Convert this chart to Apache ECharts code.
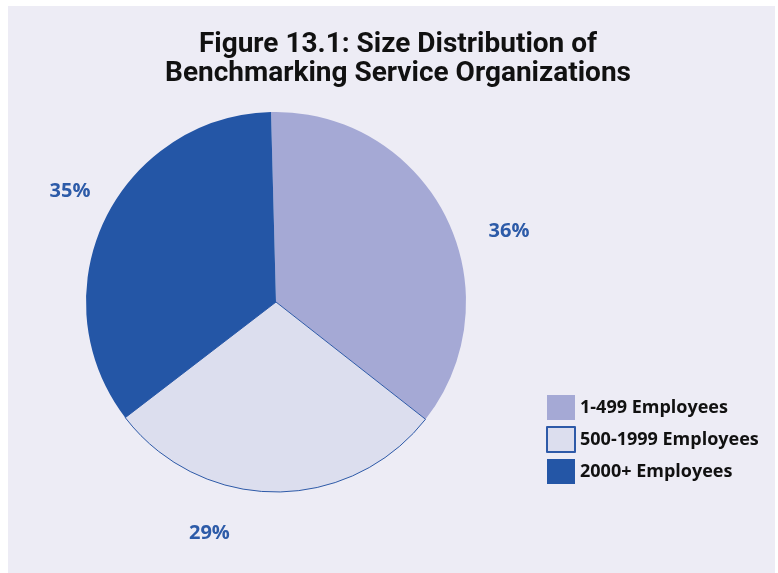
<!DOCTYPE html>
<html><head><meta charset="utf-8">
<script src="https://cdn.jsdelivr.net/npm/echarts@6/dist/echarts.min.js"></script>
<style>html,body{margin:0;padding:0;background:#fff}#c{width:778px;height:573px}</style>
</head><body><div id="c"></div>
<script>
const categories = ['1-499 Employees', '500-1999 Employees', '2000+ Employees'];
const values = [36, 29, 35];
const colors = ['#A5A9D5', '#DCDEEE', '#2456A6'];
const labelNudge = [[11, 28], [-40, 11], [18, -16]];

const chart = echarts.init(document.getElementById('c'));
chart.setOption({
  backgroundColor: '#ffffff',
  graphic: [{type: 'rect', shape: {x: 8, y: 6, width: 767, height: 570}, style: {fill: '#EDECF5'}, z: -10}],
  title: {
    text: 'Figure 13.1: Size Distribution of\nBenchmarking Service Organizations',
    left: 393, top: 25, textAlign: 'center',
    textStyle: {fontFamily: 'Roboto', fontWeight: 'bold', fontSize: 28, lineHeight: 29, color: '#111'}
  },
  legend: {
    orient: 'vertical', left: 541, top: 390,
    icon: 'rect',
    itemWidth: 28, itemHeight: 25, itemGap: 6,
    data: categories,
    textStyle: {fontFamily: 'Open Sans', fontWeight: 'bold', fontSize: 18, lineHeight: 25, color: '#111', padding: [0, 0, 0, 0]}
  },
  series: [{
    type: 'pie',
    center: [276, 302], radius: 190,
    startAngle: 91.5, clockwise: true,
    animation: false,
    data: categories.map((c, i) => ({
      name: c, value: values[i],
      itemStyle: {color: colors[i], borderColor: i === 1 ? '#2E5AA8' : colors[i], borderWidth: i === 1 ? 1 : 0}
    })),
    label: {
      position: 'outside', formatter: '{c}%',
      fontFamily: 'Open Sans', fontWeight: 'bold', fontSize: 20, color: '#2D5BA8'
    },
    labelLine: {show: false, length: 30, length2: 0},
    labelLayout: (p) => ({dx: labelNudge[p.dataIndex][0], dy: labelNudge[p.dataIndex][1]})
  }]
});
</script></body></html>
